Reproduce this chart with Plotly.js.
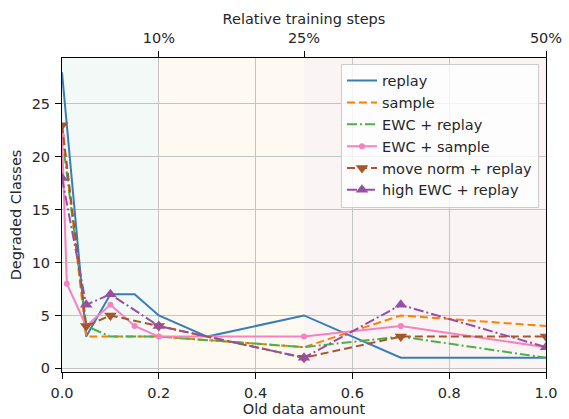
<!DOCTYPE html>
<html>
<head>
<meta charset="utf-8">
<script src="https://cdn.plot.ly/plotly-3.0.1.min.js"></script>
<style>html,body{margin:0;padding:0;background:#fff}#chart{width:569px;height:419px}</style>
</head>
<body>
<div id="chart"></div>
<script>
var xOld = [0, 0.01, 0.05, 0.1, 0.15, 0.2, 0.3, 0.5, 0.7, 1.0];
var replay        = [28, null, 3, 7, 7, 5, 3, 5, 1, 1];
var sample        = [23, null, 3, 3, null, 3, null, 2, 5, 4];
var ewcReplay     = [22, null, 4, 3, null, 3, null, 2, 3, 1];
var ewcSample     = [22, 8, 4, 6, 4, 3, null, 3, 4, 2];
var moveNormReplay= [23, null, 4, 5, null, 4, null, 1, 3, 3];
var highEwcReplay = [18, null, 6, 7, null, 4, null, 1, 6, 2];
var seriesNames = ['replay', 'sample', 'EWC + replay', 'EWC + sample', 'move norm + replay', 'high EWC + replay'];
var bottomTickVals = [0, 0.2, 0.4, 0.6, 0.8, 1.0];
var bottomTickText = ['0.0', '0.2', '0.4', '0.6', '0.8', '1.0'];
var yTickVals = [0, 5, 10, 15, 20, 25];
var topTickVals = [0.2, 0.5, 1.0];
var topTickText = ['10%', '25%', '50%'];
var bandEdges = [0, 0.2, 0.5, 1.0];
var bandColors = ['#f2f9f7', '#fefaf2', '#fbf4f5'];

var styles = [
  {color: '#377eb8', dash: 'solid', marker: null},
  {color: '#ff7f00', dash: '8px,4px', marker: null},
  {color: '#4daf4a', dash: '10px,3px,2px,3px', marker: null},
  {color: '#f781bf', dash: 'solid', marker: {symbol: 'circle', size: 6}},
  {color: '#a65628', dash: '8px,4px', marker: {symbol: 'triangle-down', size: 11}},
  {color: '#984ea3', dash: '10px,3px,2px,3px', marker: {symbol: 'triangle-up', size: 11}}
];
var allY = [replay, sample, ewcReplay, ewcSample, moveNormReplay, highEwcReplay];

var traces = allY.map(function (ys, i) {
  var s = styles[i];
  var t = {
    x: xOld, y: ys, name: seriesNames[i], type: 'scatter',
    mode: s.marker ? 'lines+markers' : 'lines',
    connectgaps: true,
    line: {color: s.color, width: 2, dash: s.dash}
  };
  if (s.marker) t.marker = {color: s.color, symbol: s.marker.symbol, size: s.marker.size, line: {width: 0}};
  return t;
});
// invisible trace to activate top axis
traces.push({x: [0, 1], y: [null, null], xaxis: 'x2', yaxis: 'y', showlegend: false, hoverinfo: 'skip', mode: 'lines'});

var shapes = [];
for (var i = 0; i < bandColors.length; i++) {
  shapes.push({type: 'rect', xref: 'x', yref: 'paper', x0: bandEdges[i], x1: bandEdges[i + 1], y0: 0, y1: 1,
    fillcolor: bandColors[i], line: {width: 0}, layer: 'below'});
}

var fontFam = 'DejaVu Sans, sans-serif';
var fs = 14.5;
var layout = {
  width: 569, height: 419,
  margin: {l: 62, r: 23, t: 58, b: 47, pad: 0},
  paper_bgcolor: '#ffffff', plot_bgcolor: 'rgba(0,0,0,0)',
  font: {family: fontFam, size: fs, color: '#262626'},
  showlegend: true,
  shapes: shapes,
  xaxis: {
    range: [0, 1], tickvals: bottomTickVals, ticktext: bottomTickText,
    showgrid: true, gridcolor: '#c4c4c4', gridwidth: 1, zeroline: false,
    showline: true, linecolor: '#000', linewidth: 1, mirror: true,
    ticks: 'outside', ticklen: 6, tickcolor: '#000', ticklabelstandoff: 2,
    tickfont: {size: fs},
    title: {text: 'Old data amount', font: {size: fs}, standoff: 2},
    automargin: false
  },
  xaxis2: {
    overlaying: 'x', side: 'top', range: [0, 1], tickvals: topTickVals, ticktext: topTickText,
    showgrid: false, zeroline: false, showline: true, linecolor: '#000', linewidth: 1,
    ticks: 'outside', ticklen: 6, tickcolor: '#000', ticklabelstandoff: 2,
    tickfont: {size: fs},
    title: {text: 'Relative training steps', font: {size: fs}, standoff: 2},
    automargin: false
  },
  yaxis: {
    range: [-0.35, 29.35], tickvals: yTickVals,
    showgrid: true, gridcolor: '#c4c4c4', gridwidth: 1, zeroline: false,
    showline: true, linecolor: '#000', linewidth: 1, mirror: true,
    ticks: 'outside', ticklen: 6, tickcolor: '#000', ticklabelstandoff: 2,
    tickfont: {size: fs},
    title: {text: 'Degraded Classes', font: {size: fs}, standoff: 6},
    automargin: false
  },
  legend: {
    x: 0.9855, y: 0.982, xanchor: 'right', yanchor: 'top',
    bgcolor: 'rgba(255,255,255,0.8)', bordercolor: '#cccccc', borderwidth: 1,
    font: {size: fs, family: fontFam, color: '#262626'}
  }
};

Plotly.newPlot('chart', traces, layout, {displayModeBar: false, staticPlot: true});
</script>
</body>
</html>
